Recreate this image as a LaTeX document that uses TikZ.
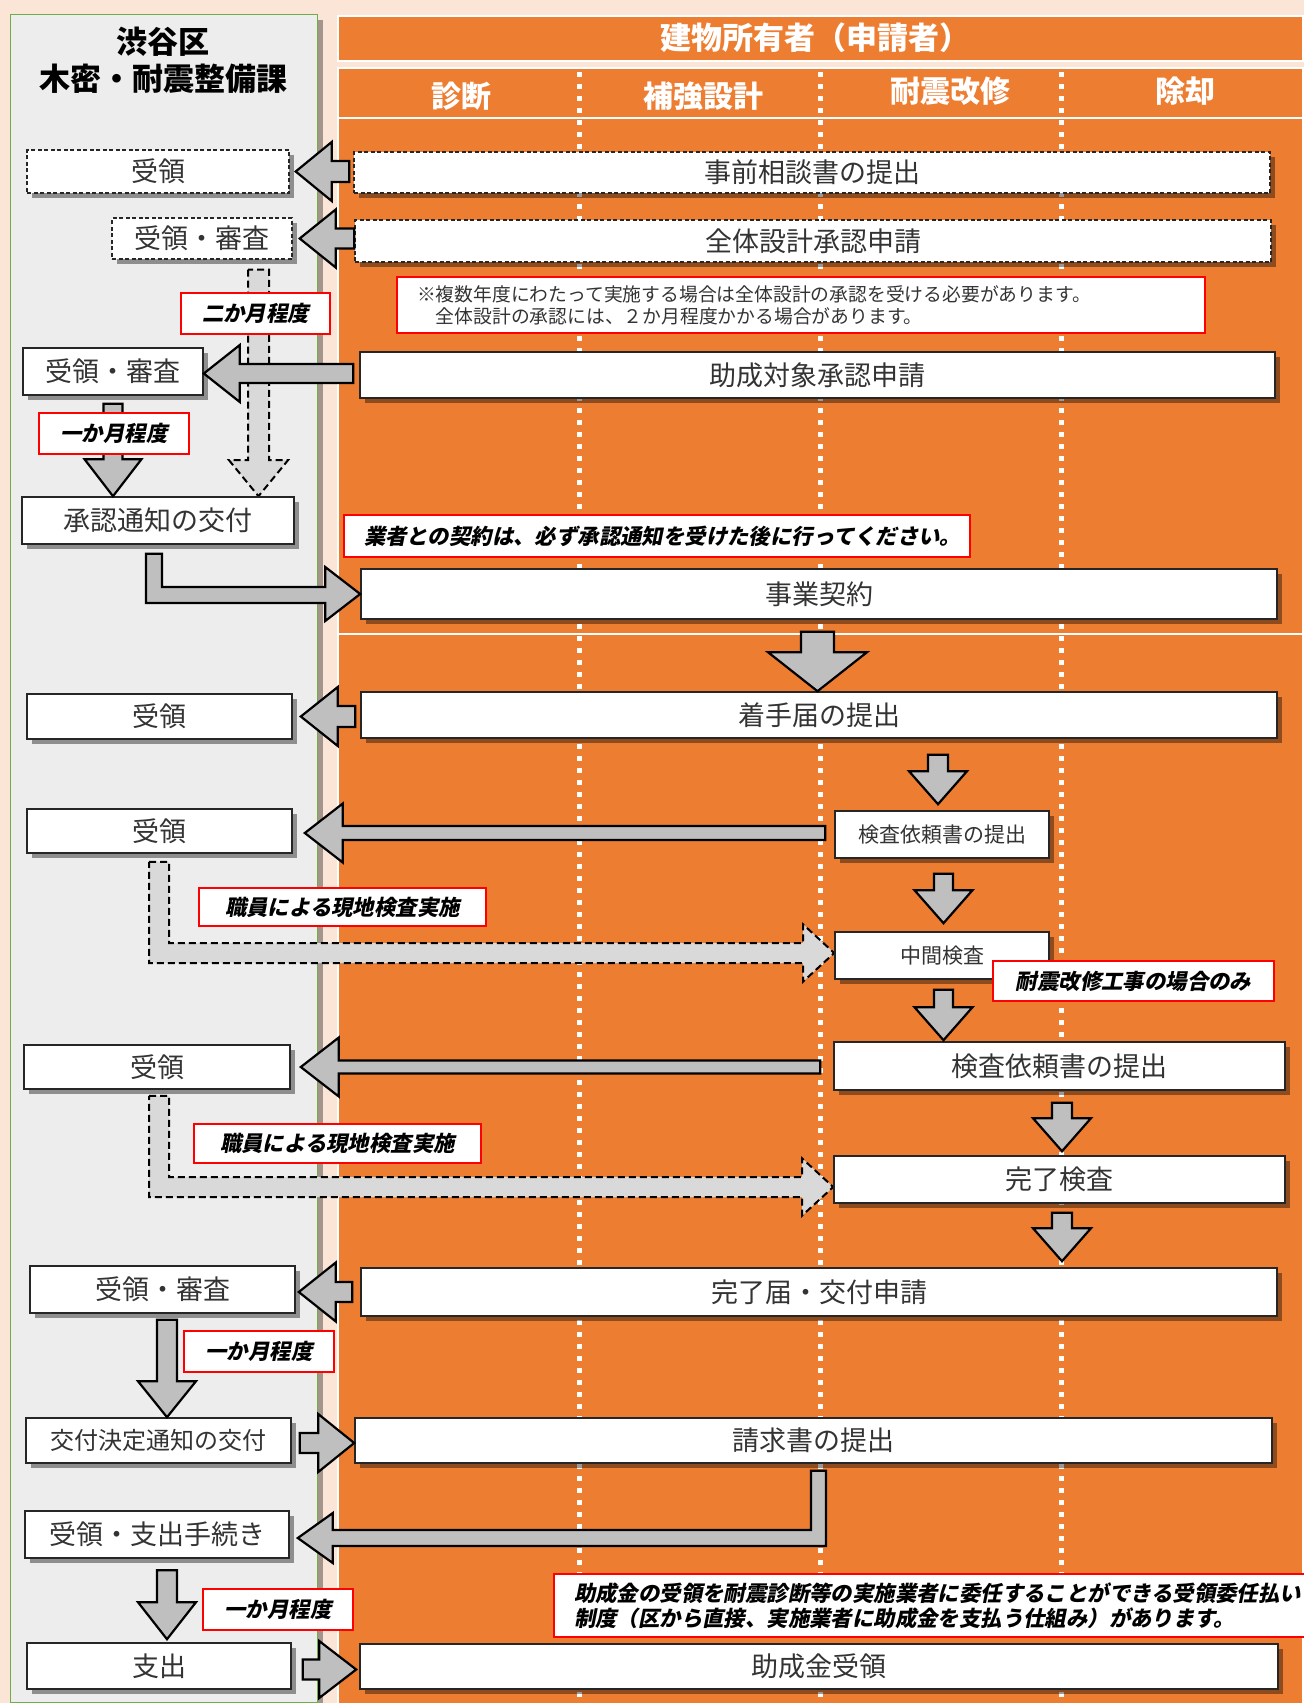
\documentclass[tikz,border=0pt]{standalone}
\usepackage{fontspec}
\setmainfont{Noto Sans CJK JP}
\newfontfamily\notefont{Noto Sans CJK JP}[FakeSlant=0.2, BoldFeatures={FakeSlant=0.2}]
\usepackage{tikz}
\usetikzlibrary{positioning,calc,shadows}

\definecolor{peach}{HTML}{FBE5D6}
\definecolor{ownerorange}{HTML}{ED7D31}
\definecolor{panelgray}{HTML}{EDEDED}
\definecolor{panelgreen}{HTML}{70AD47}
\definecolor{arrowgray}{HTML}{BFBFBF}
\definecolor{dasharrowgray}{HTML}{D9D9D9}

\pgfdeclarelayer{background}
\pgfdeclarelayer{behind}
\pgfsetlayers{background,behind,main}

% block arrows: [style]{tail}{tip}{shaft half}{head half}{head length}
\newcommand{\harrow}[6][]{%
  \draw[blockarrow,#1] let \p1=#2, \p2=#3 in
    (\x1,{\y2+#4pt}) -- ({\x2+(#6pt)},{\y2+#4pt}) -- ({\x2+(#6pt)},{\y2+#5pt})
    -- (\x2,\y2) -- ({\x2+(#6pt)},{\y2-#5pt}) -- ({\x2+(#6pt)},{\y2-#4pt})
    -- (\x1,{\y2-#4pt}) -- cycle;}
\newcommand{\varrow}[6][]{%
  \draw[blockarrow,#1] let \p1=#2, \p2=#3 in
    ({\x2-#4pt},\y1) -- ({\x2-#4pt},{\y2+#6pt}) -- ({\x2-#5pt},{\y2+#6pt})
    -- (\x2,\y2) -- ({\x2+#5pt},{\y2+#6pt}) -- ({\x2+#4pt},{\y2+#6pt})
    -- ({\x2+#4pt},\y1) -- cycle;}

\begin{document}
\begin{tikzpicture}[x=1pt, y=-1pt,
wardbox/.style={rectangle, draw=black!85, line width=1.6pt, fill=white, inner sep=0pt, text=black!80, font=\fontsize{27}{30}\selectfont, drop shadow={shadow xshift=5pt, shadow yshift=-5pt, fill=black, opacity=0.4}},
ownerbox/.style={wardbox},
smallbox/.style={wardbox, font=\fontsize{21}{24}\selectfont},
dashedline/.style={dash pattern=on 4pt off 2.5pt, line width=1.4pt},
notebox/.style={rectangle, draw=red, line width=1.2pt, fill=white, inner sep=0pt, text=black, font=\notefont\bfseries\fontsize{21.4}{25}\selectfont},
colhead/.style={text=white, font=\bfseries\fontsize{30}{34}\selectfont},
blockarrow/.style={fill=arrowgray, draw=black, line width=2.2pt, line join=miter},
dasharrow/.style={fill=dasharrowgray, draw=black, line width=2pt, dash pattern=on 7pt off 4pt, line join=miter},
divider/.style={white, line width=5pt, dash pattern=on 5pt off 7pt},
]
\useasboundingbox (0,0) rectangle (1304,1703);
\clip (0,0) rectangle (1304,1703);

%Background
\begin{pgfonlayer}{background}
\fill[peach] (0,0) rectangle (1304,1703);
\fill[black, opacity=0.35] (317,20) rectangle (323,1703);
\draw[panelgreen, line width=1pt, fill=panelgray] (10,14) rectangle (317,1702);
\draw[white, line width=2.5pt, fill=ownerorange] (338,16) rectangle (1303,61);
\draw[white, line width=2.5pt, fill=ownerorange] (338,68) rectangle (1303,118);
\draw[white, line width=2.5pt, fill=ownerorange] (338,118) rectangle (1303,634);
\draw[white, line width=2.5pt, fill=ownerorange] (338,634) rectangle (1303,1706);
\foreach \x in {579,820,1061}
  \draw[divider] (\x,72) -- (\x,1703);
\end{pgfonlayer}

%Headers
\node[font=\bfseries\fontsize{31}{37}\selectfont, align=center] (ward) at (163,60.5) {渋谷区\\木密・耐震整備課};
\node[colhead, font=\bfseries\fontsize{31}{35}\selectfont] (owner) at (815,38) {建物所有者（申請者）};
\node[colhead] (diag) at (461,96) {診断};
\node[colhead] (design) at (703,96) {補強設計};
\node[colhead] (retrofit) at (950,91) {耐震改修};
\node[colhead] (demolish) at (1185,91) {除却};

%Nodes (ward)
\node[wardbox, dashedline, minimum width=262pt, minimum height=43pt] (u1) at (158,171.5) {受領};
\node[wardbox, dashedline, minimum width=180pt, minimum height=41pt] (u2) at (202,238.5) {受領・審査};
\node[wardbox, minimum width=180pt, minimum height=47pt] (u3) at (113,371.5) {受領・審査};
\node[wardbox, minimum width=272pt, minimum height=47pt] (u4) at (158,520.5) {承認通知の交付};
\node[wardbox, minimum width=265pt, minimum height=45pt] (u5) at (159.5,716.5) {受領};
\node[wardbox, minimum width=265pt, minimum height=44pt] (u6) at (159.5,831) {受領};
\node[wardbox, minimum width=266pt, minimum height=44pt] (u7) at (157,1067) {受領};
\node[wardbox, minimum width=265pt, minimum height=47pt] (u8) at (162.5,1289.5) {受領・審査};
\node[wardbox, minimum width=265pt, minimum height=45pt, font=\fontsize{24}{27}\selectfont] (u9) at (158.5,1440.5) {交付決定通知の交付};
\node[wardbox, minimum width=264pt, minimum height=47pt] (u10) at (157,1534.5) {受領・支出手続き};
\node[wardbox, minimum width=264pt, minimum height=46pt] (u11) at (159,1666) {支出};

%Nodes (owner)
\node[ownerbox, dashedline, minimum width=916pt, minimum height=41pt] (A) at (812,172.5) {事前相談書の提出};
\node[ownerbox, dashedline, minimum width=916pt, minimum height=42pt] (B) at (813,241) {全体設計承認申請};
\node[ownerbox, minimum width=915pt, minimum height=46pt] (D) at (817.5,375) {助成対象承認申請};
\node[ownerbox, minimum width=916pt, minimum height=50pt] (F) at (819,594) {事業契約};
\node[ownerbox, minimum width=916pt, minimum height=46pt] (G) at (819,715) {着手届の提出};
\node[smallbox, minimum width=214pt, minimum height=47pt] (H) at (942,834.5) {検査依頼書の提出};
\node[smallbox, minimum width=214pt, minimum height=47pt] (I) at (942,955.5) {中間検査};
\node[ownerbox, minimum width=451pt, minimum height=48pt] (K) at (1059.5,1066) {検査依頼書の提出};
\node[ownerbox, minimum width=451pt, minimum height=47pt] (L) at (1059.5,1179.5) {完了検査};
\node[ownerbox, minimum width=916pt, minimum height=48pt] (M) at (819,1292) {完了届・交付申請};
\node[ownerbox, minimum width=917pt, minimum height=45pt] (N) at (813.5,1440.5) {請求書の提出};
\node[ownerbox, minimum width=918pt, minimum height=45pt] (P) at (819,1666.5) {助成金受領};

%Dashed arrows
\begin{pgfonlayer}{behind}
\varrow[dasharrow]{([yshift=-10pt]u2.south)}{([xshift=100.5pt]u4.north)}{10.5}{29.5}{36}
\draw[dasharrow] let \p1=(u6.south), \p2=([yshift=2.5pt]I.west) in
  ({\x1-10.5pt},{\y1-8pt}) -- ({\x1+9.5pt},{\y1-8pt}) -- ({\x1+9.5pt},{\y2+10pt}) -- ({\x2-31pt},{\y2+10pt})
  -- ({\x2-31pt},{\y2+28.5pt}) -- (\x2,\y2) -- ({\x2-31pt},{\y2-28.5pt}) -- ({\x2-31pt},{\y2-10pt})
  -- ({\x1-10.5pt},{\y2-10pt}) -- cycle;
\draw[dasharrow] let \p1=(u7.south), \p2=([yshift=-7.5pt]L.west) in
  ({\x1-8pt},{\y1-6pt}) -- ({\x1+12pt},{\y1-6pt}) -- ({\x1+12pt},{\y2+10pt}) -- ({\x2-31pt},{\y2+10pt})
  -- ({\x2-31pt},{\y2+28.5pt}) -- (\x2,\y2) -- ({\x2-31pt},{\y2-28.5pt}) -- ({\x2-31pt},{\y2-10pt})
  -- ({\x1-8pt},{\y2-10pt}) -- cycle;
\end{pgfonlayer}

%Arrows
\harrow{([xshift=-4pt]A.west)}{([xshift=6pt]u1.east)}{10.5}{29.5}{36}
\harrow{(B.west)}{([xshift=7pt]u2.east)}{10}{29}{36}
\harrow{([xshift=-6pt]D.west)}{([yshift=-2pt]u3.east)}{9.5}{28.5}{36}
\varrow{([yshift=-8pt]u3.south)}{(u3.south |- u4.north)}{9.5}{28.5}{37}
\draw[blockarrow] let \p1=(u4.south), \p2=(F.west) in
  ({\x1-12pt},{\y1-9pt}) -- ({\x1+4pt},{\y1-9pt}) -- ({\x1+4pt},{\y2+7pt}) -- ({\x2-35pt},{\y2+7pt})
  -- ({\x2-35pt},{\y2+27pt}) -- (\x2,\y2) -- ({\x2-35pt},{\y2-27pt}) -- ({\x2-35pt},{\y2-9pt})
  -- ({\x1-12pt},{\y2-9pt}) -- cycle;
\varrow{([yshift=-12pt]F.south)}{([xshift=-1.5pt]G.north)}{16.5}{49.5}{39}
\harrow{([xshift=-5pt]G.west)}{([xshift=8pt]u5.east)}{10.5}{29.5}{37}
\varrow{([yshift=-16pt]G.south)}{([xshift=-4pt, yshift=6pt]H.north)}{10}{29}{33}
\harrow{([xshift=-9pt]H.west)}{([xshift=12pt, yshift=-2pt]u6.east)}{7}{29.5}{38}
\varrow{([yshift=-15pt]H.south)}{([xshift=1.5pt, yshift=8pt]I.north)}{9.5}{29}{33}
\varrow{([yshift=-10pt]I.south)}{([xshift=-116pt, yshift=1pt]K.north)}{9.5}{29}{33}
\harrow{([xshift=-13pt]K.west)}{([xshift=10pt]u7.east)}{6.5}{29.5}{38}
\varrow{([yshift=-12pt]K.south)}{([xshift=2.5pt, yshift=4pt]L.north)}{10}{29}{33}
\varrow{([yshift=-9pt]L.south)}{([xshift=243pt, yshift=6pt]M.north)}{10}{29}{33}
\harrow{([xshift=-8pt]M.west)}{([xshift=3pt, yshift=-2.5pt]u8.east)}{10}{29.5}{37}
\varrow{([yshift=-6pt]u8.south)}{([xshift=8.5pt]u9.north)}{10}{29}{36}
\harrow{([xshift=8pt]u9.east)}{([yshift=-2.5pt]N.west)}{10}{29}{-36}
\draw[blockarrow] let \p1=(N.south), \p2=([xshift=8pt, yshift=-3.5pt]u10.east) in
  ({\x1-2.5pt},{\y1-7pt}) -- ({\x1+12.5pt},{\y1-7pt}) -- ({\x1+12.5pt},{\y2-8pt}) -- ({\x2+35pt},{\y2-8pt})
  -- ({\x2+35pt},{\y2-25pt}) -- (\x2,\y2) -- ({\x2+35pt},{\y2+25pt}) -- ({\x2+35pt},{\y2+8pt})
  -- ({\x1-2.5pt},{\y2+8pt}) -- cycle;
\varrow{([yshift=-11.5pt]u10.south)}{([xshift=8pt, yshift=3pt]u11.north)}{10}{29}{37}
\harrow{([xshift=11pt]u11.east)}{([xshift=-3pt, yshift=-3pt]P.west)}{10}{28.5}{-37}

%Notes
\node[notebox, minimum width=149pt, minimum height=41pt] (twomonths) at (255.5,313.5) {二か月程度};
\node[notebox, minimum width=150pt, minimum height=41pt] (onemonth1) at (114,433.5) {一か月程度};
\node[notebox, minimum width=287pt, minimum height=38pt] (staffcheck1) at (342.5,907) {職員による現地検査実施};
\node[notebox, minimum width=287pt, minimum height=39pt] (staffcheck2) at (337.5,1143.5) {職員による現地検査実施};
\node[notebox, minimum width=150pt, minimum height=41pt] (onemonth2) at (259,1351.5) {一か月程度};
\node[notebox, minimum width=150pt, minimum height=41pt] (onemonth3) at (278,1609.5) {一か月程度};
\node[notebox, minimum width=281pt, minimum height=40pt] (retrofitonly) at (1133.5,981) {耐震改修工事の場合のみ};
\node[notebox, font=\fontsize{18.8}{22}\selectfont, text=black!80, text width=768pt, inner xsep=20pt, minimum height=56pt, align=left] (multiyear) at (801,305) {※複数年度にわたって実施する場合は全体設計の承認を受ける必要があります。\\　全体設計の承認には、２か月程度かかる場合があります。};
\node[notebox, text width=586pt, inner xsep=20pt, minimum height=42pt, align=left] (contract) at (657,536) {業者との契約は、必ず承認通知を受けた後に行ってください。};
\node[notebox, text width=760pt, inner xsep=20pt, minimum height=63pt, align=left] (proxy) at (954,1605.5) {助成金の受領を耐震診断等の実施業者に委任することができる受領委任払い\\制度（区から直接、実施業者に助成金を支払う仕組み）があります。};
\end{tikzpicture}
\end{document}
